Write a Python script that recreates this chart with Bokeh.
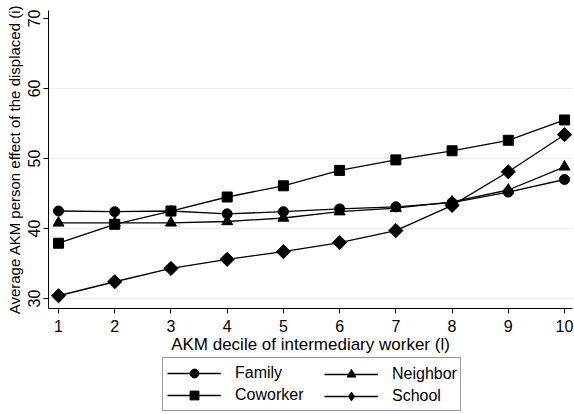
import math
from bokeh.plotting import figure
from bokeh.layouts import column
from bokeh.models import Range1d, Legend, LegendItem, FixedTicker
from bokeh.embed import file_html
from bokeh.resources import INLINE

deciles = [1, 2, 3, 4, 5, 6, 7, 8, 9, 10]
family = [42.5, 42.4, 42.5, 42.1, 42.4, 42.8, 43.1, 43.7, 45.2, 47.0]
neighbor = [40.8, 40.8, 40.8, 41.0, 41.5, 42.4, 42.9, 43.8, 45.5, 48.8]
coworker = [37.9, 40.6, 42.5, 44.5, 46.1, 48.3, 49.8, 51.1, 52.6, 55.5]
school = [30.4, 32.4, 34.3, 35.6, 36.7, 38.0, 39.7, 43.3, 48.1, 53.4]
x_ticks = [1, 2, 3, 4, 5, 6, 7, 8, 9, 10]
y_ticks = [30, 40, 50, 60, 70]
grid_ticks = [30, 40, 50, 60]

FONT = "Liberation Sans"

# ---------------- main plot ----------------
p = figure(width=574, height=356, output_backend="svg", toolbar_location=None,
           x_range=Range1d(0.822, 10.142), y_range=Range1d(28.58, 71.13),
           min_border_left=48, min_border_right=2, min_border_top=10, min_border_bottom=46)
p.outline_line_color = None
p.background_fill_color = "white"
p.border_fill_color = "white"

series = [
    ("Family", family, "circle", 10, 0.0),
    ("Coworker", coworker, "square", 10, 0.0),
    ("Neighbor", neighbor, "triangle", 11, 0.0),
    ("School", school, "square", 10, math.pi / 4),  # square turned 45 deg = diamond
]
for name, ys, marker, size, ang in series:
    p.line(deciles, ys, line_color="black", line_width=1.3)
    p.scatter(deciles, ys, marker=marker, size=size, angle=ang,
              fill_color="black", line_color="black")

p.xaxis.ticker = FixedTicker(ticks=x_ticks)
p.yaxis.ticker = FixedTicker(ticks=y_ticks)
p.ygrid.ticker = FixedTicker(ticks=grid_ticks)
p.xgrid.grid_line_color = None
p.ygrid.grid_line_color = "#e6eef0"
p.ygrid.grid_line_width = 1

for ax in (p.xaxis[0], p.yaxis[0]):
    ax.axis_line_color = "black"
    ax.axis_line_width = 1
    ax.major_tick_line_color = "black"
    ax.major_tick_out = 5
    ax.major_tick_in = 0
    ax.minor_tick_line_color = None
    ax.major_label_text_font = FONT
    ax.major_label_text_font_size = "16px"
    ax.major_label_text_color = "black"
    ax.axis_label_text_font = FONT
    ax.axis_label_text_font_style = "normal"
    ax.axis_label_text_color = "black"

p.xaxis.axis_label = "AKM decile of intermediary worker (l)"
p.yaxis.axis_label = "Average AKM person effect of the displaced (i)"
p.xaxis.axis_label_text_font_size = "17px"
p.yaxis.axis_label_text_font_size = "15px"
p.yaxis.major_label_orientation = "vertical"
p.xaxis.major_label_standoff = 6
p.xaxis.axis_label_standoff = 0
p.yaxis.major_label_standoff = 3
p.yaxis.axis_label_standoff = 3

# ---------------- legend strip (frame aligned with main plot frame) ----------------
p2 = figure(width=574, height=58, output_backend="svg", toolbar_location=None,
            x_range=Range1d(100, 101), y_range=Range1d(100, 101),
            x_axis_type=None, y_axis_type=None, min_border=0)
p2.outline_line_color = None
p2.background_fill_color = "white"
p2.border_fill_color = "white"

legend_markers = {"Family": "circle", "Coworker": "square", "Neighbor": "triangle", "School": "diamond"}
items = {}
for name, ys, marker, size, ang in series:
    l = p2.line(deciles, ys, line_color="black", line_width=1.3)
    s = p2.scatter(deciles, ys, marker=legend_markers[name], size=size,
                   fill_color="black", line_color="black")
    items[name] = LegendItem(label=name, renderers=[l, s])

common = dict(orientation="vertical", glyph_width=54, glyph_height=22, label_height=20,
              label_standoff=14, padding=4, spacing=0, margin=0, label_text_font=FONT,
              label_text_font_size="16px", label_text_color="black")
leg1 = Legend(items=[items["Family"], items["Coworker"]], location=(114, 3),
              label_width=221, border_line_color="#333333", border_line_width=1,
              background_fill_color="white", background_fill_alpha=1.0, **common)
leg2 = Legend(items=[items["Neighbor"], items["School"]], location=(272, 3),
              border_line_alpha=0, background_fill_alpha=0, **common)
p2.add_layout(leg1, "center")
p2.add_layout(leg2, "center")

layout = column(p, p2, spacing=0)
open("out.html", "w").write(file_html(layout, INLINE))
